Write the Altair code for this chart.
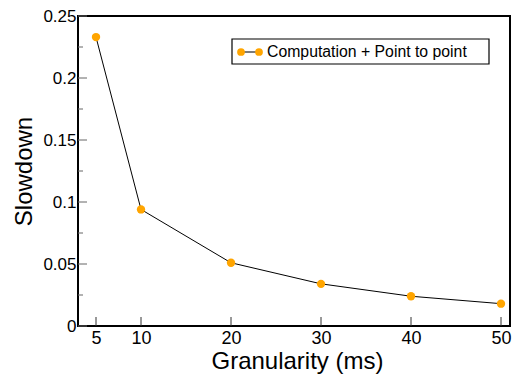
import altair as alt
import pandas as pd

granularity = [5, 10, 20, 30, 40, 50]
slowdown = [0.233, 0.094, 0.051, 0.034, 0.024, 0.018]
series_name = "Computation + Point to point"
x_ticks = [5, 10, 20, 30, 40, 50]
y_major = [0, 0.05, 0.1, 0.15, 0.2, 0.25]
y_minor = [0.025, 0.075, 0.125, 0.175, 0.225]

W, H = 432, 310
FONT = "Liberation Sans"
ORANGE = "#FFA500"

df = pd.DataFrame({"g": granularity, "s": slowdown})
xs = alt.Scale(domain=[3, 51], nice=False, zero=False)
ys = alt.Scale(domain=[0, 0.25], nice=False)

xaxis = alt.Axis(values=x_ticks, ticks=False, domain=False, grid=False,
                 labelFontSize=18, labelPadding=3, titleFontSize=24,
                 titlePadding=2, titleX=219, labelFont=FONT, titleFont=FONT,
                 titleFontWeight="normal", labelColor="black", titleColor="black",
                 labelFlush=False)
yaxis = alt.Axis(values=y_major, format=".2~f", ticks=False, domain=False, grid=False,
                 labelFontSize=17, labelPadding=2, titleFontSize=24,
                 titlePadding=6, labelFont=FONT, titleFont=FONT,
                 titleFontWeight="normal", labelColor="black", titleColor="black",
                 labelFlush=False)

line = alt.Chart(df).mark_line(color="black", strokeWidth=1).encode(
    x=alt.X("g:Q", scale=xs, title="Granularity (ms)", axis=xaxis),
    y=alt.Y("s:Q", scale=ys, title="Slowdown", axis=yaxis),
)
pts = alt.Chart(df).mark_point(filled=True, color=ORANGE, opacity=1, size=70).encode(
    x=alt.X("g:Q", scale=xs, title="Granularity (ms)", axis=xaxis),
    y=alt.Y("s:Q", scale=ys, title="Slowdown", axis=yaxis),
)

xt = alt.Chart(pd.DataFrame({"g": x_ticks})).mark_rule(color="#333", strokeWidth=1).encode(
    x=alt.X("g:Q", scale=xs, title="Granularity (ms)", axis=xaxis),
    y=alt.value(H), y2=alt.value(H - 9))
ytM = alt.Chart(pd.DataFrame({"s": y_major})).mark_rule(color="#666", strokeWidth=1).encode(
    y=alt.Y("s:Q", scale=ys, title="Slowdown", axis=yaxis), x=alt.value(0), x2=alt.value(9))
ytm = alt.Chart(pd.DataFrame({"s": y_minor})).mark_rule(color="#666", strokeWidth=1).encode(
    y=alt.Y("s:Q", scale=ys, title="Slowdown", axis=yaxis), x=alt.value(0), x2=alt.value(5))

# legend (manual)
leg = pd.DataFrame({"name": [series_name]})
lx0, ly0 = 154, 23
leg_box = alt.Chart(leg).mark_rect(fill="white", stroke="black", strokeWidth=1.2).encode(
    x=alt.value(lx0), x2=alt.value(lx0 + 257), y=alt.value(ly0), y2=alt.value(ly0 + 25))
leg_line = alt.Chart(leg).mark_rule(color="#222", strokeWidth=1.2).encode(
    x=alt.value(lx0 + 9), x2=alt.value(lx0 + 27), y=alt.value(ly0 + 13))
leg_pts = alt.Chart(pd.DataFrame({"p": [lx0 + 9, lx0 + 27]})).mark_point(
    filled=True, color=ORANGE, opacity=1, size=60).encode(
    x=alt.X("p:Q", scale=None, axis=None), y=alt.value(ly0 + 13))
leg_text = alt.Chart(leg).mark_text(align="left", baseline="middle", fontSize=15.8,
                                    font=FONT, color="black").encode(
    text="name:N", x=alt.value(lx0 + 35), y=alt.value(ly0 + 13))

chart = alt.layer(line, pts, xt, ytM, ytm, leg_box, leg_line, leg_pts, leg_text).properties(
    width=W, height=H,
    background="white",
    autosize=alt.AutoSizeParams(type="none"),
    padding={"left": 78, "top": 16, "right": 2, "bottom": 52},
).configure_view(stroke="black", strokeWidth=2)

chart.save("out.html", embed_options={"renderer": "svg", "actions": False})
